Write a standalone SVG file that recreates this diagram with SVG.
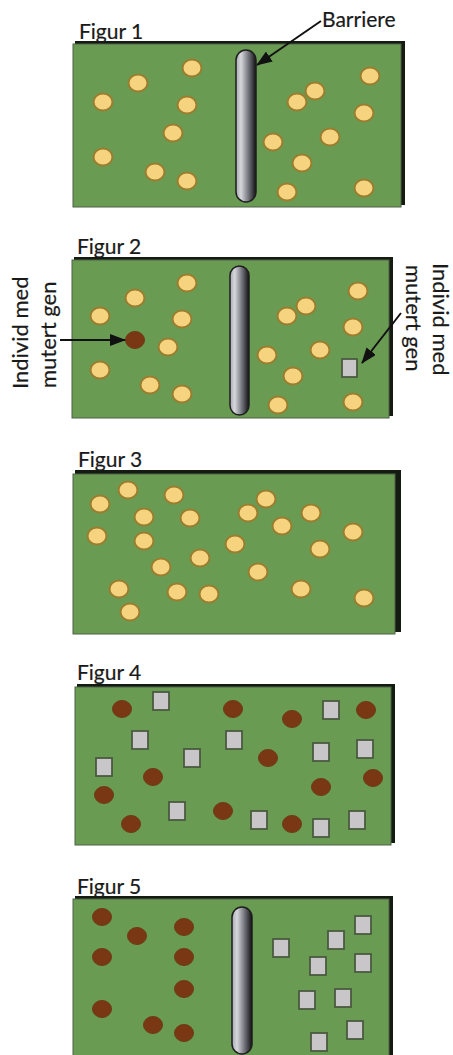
<svg xmlns="http://www.w3.org/2000/svg" width="453" height="1055" viewBox="0 0 453 1055">
<defs>
<style>
.bg{fill:#ffffff}
.shadow{fill:#141c12}
.box{fill:#6a9b53;stroke:#4f6048;stroke-width:1}
.dot{fill:#f6d47f;stroke:#9a7d2f;stroke-width:2}
.mdot{fill:#7a3714;stroke:#6e3a16;stroke-width:1}
.sq{fill:#c9c6c9;stroke:#4b5a41;stroke-width:1.8}
.barrier{fill:url(#bar);stroke:#1e1e1e;stroke-width:1.5}
.lbl{font-family:Lato,"Open Sans","Liberation Sans",sans-serif;font-size:21px;fill:#1a1a1a;stroke:#1a1a1a;stroke-width:0.2}
.rot{font-family:Lato,"Open Sans","Liberation Sans",sans-serif;font-size:22px;fill:#1a1a1a;stroke:#1a1a1a;stroke-width:0.2}
.arrow{stroke:#111;stroke-width:2;fill:none;marker-end:url(#ah)}
</style>
<linearGradient id="bar" x1="0" y1="0" x2="1" y2="0">
<stop offset="0" stop-color="#a9a9b2"/>
<stop offset="0.25" stop-color="#d6d6dc"/>
<stop offset="0.65" stop-color="#6d6d76"/>
<stop offset="1" stop-color="#121212"/>
</linearGradient>
<marker id="ah" markerUnits="userSpaceOnUse" markerWidth="16" markerHeight="12" refX="15" refY="6" orient="auto">
<path d="M0,0 L16,6 L0,12 z" fill="#111"/>
</marker>
</defs>
<rect class="bg" x="0" y="0" width="453" height="1055"/>

<g id="figur1">
<rect class="shadow" x="75" y="41" width="330" height="164"/>
<rect class="box" x="73" y="44" width="328" height="163"/>
<text class="lbl" x="79" y="39">Figur 1</text>
<rect class="barrier" x="236" y="50" width="20" height="152" rx="10"/>
<g>
<ellipse class="dot" cx="192" cy="68" rx="9.5" ry="8.5"/>
<ellipse class="dot" cx="138" cy="83" rx="9.5" ry="8.5"/>
<ellipse class="dot" cx="103" cy="102" rx="9.5" ry="8.5"/>
<ellipse class="dot" cx="187" cy="105" rx="9.5" ry="8.5"/>
<ellipse class="dot" cx="173" cy="133" rx="9.5" ry="8.5"/>
<ellipse class="dot" cx="103" cy="157" rx="9.5" ry="8.5"/>
<ellipse class="dot" cx="155" cy="172" rx="9.5" ry="8.5"/>
<ellipse class="dot" cx="187" cy="181" rx="9.5" ry="8.5"/>
<ellipse class="dot" cx="370" cy="76" rx="9.5" ry="8.5"/>
<ellipse class="dot" cx="315" cy="91" rx="9.5" ry="8.5"/>
<ellipse class="dot" cx="297" cy="102" rx="9.5" ry="8.5"/>
<ellipse class="dot" cx="364" cy="113" rx="9.5" ry="8.5"/>
<ellipse class="dot" cx="330" cy="137" rx="9.5" ry="8.5"/>
<ellipse class="dot" cx="273" cy="142" rx="9.5" ry="8.5"/>
<ellipse class="dot" cx="302" cy="163" rx="9.5" ry="8.5"/>
<ellipse class="dot" cx="287" cy="192" rx="9.5" ry="8.5"/>
<ellipse class="dot" cx="364" cy="188" rx="9.5" ry="8.5"/>
</g>
</g>
<g id="label-barriere">
<text class="lbl" x="322" y="27">Barriere</text>
</g>

<g id="figur2">
<rect class="shadow" x="74" y="257" width="319" height="159"/>
<rect class="box" x="72" y="260" width="317" height="158"/>
<text class="lbl" x="77" y="254">Figur 2</text>
<rect class="barrier" x="230" y="266" width="19" height="149" rx="9.5"/>
<g>
<ellipse class="dot" cx="187" cy="283" rx="9.5" ry="8.5"/>
<ellipse class="dot" cx="135" cy="298" rx="9.5" ry="8.5"/>
<ellipse class="dot" cx="100" cy="316" rx="9.5" ry="8.5"/>
<ellipse class="dot" cx="182" cy="319" rx="9.5" ry="8.5"/>
<ellipse class="dot" cx="168" cy="347" rx="9.5" ry="8.5"/>
<ellipse class="dot" cx="100" cy="370" rx="9.5" ry="8.5"/>
<ellipse class="dot" cx="150" cy="385" rx="9.5" ry="8.5"/>
<ellipse class="dot" cx="182" cy="394" rx="9.5" ry="8.5"/>
<ellipse class="dot" cx="358" cy="291" rx="9.5" ry="8.5"/>
<ellipse class="dot" cx="306" cy="306" rx="9.5" ry="8.5"/>
<ellipse class="dot" cx="287" cy="316" rx="9.5" ry="8.5"/>
<ellipse class="dot" cx="353" cy="327" rx="9.5" ry="8.5"/>
<ellipse class="dot" cx="320" cy="350" rx="9.5" ry="8.5"/>
<ellipse class="dot" cx="267" cy="355" rx="9.5" ry="8.5"/>
<ellipse class="dot" cx="293" cy="376" rx="9.5" ry="8.5"/>
<ellipse class="dot" cx="278" cy="405" rx="9.5" ry="8.5"/>
<ellipse class="dot" cx="353" cy="402" rx="9.5" ry="8.5"/>
</g>
<ellipse id="mutant-left" class="mdot" cx="135" cy="340" rx="9.5" ry="8.5"/>
<rect id="mutant-right" class="sq" x="342" y="359" width="15" height="18"/>
</g>
<g id="label-left">
<text class="rot" transform="translate(28,389) rotate(-90)">Individ med</text>
<text class="rot" transform="translate(56,388) rotate(-90)">mutert gen</text>
</g>
<g id="label-right">
<text class="rot" transform="translate(433,263) rotate(90)">Individ med</text>
<text class="rot" transform="translate(406,265) rotate(90)">mutert gen</text>
</g>

<g id="figur3">
<rect class="shadow" x="75" y="470" width="326" height="162"/>
<rect class="box" x="73" y="474" width="322" height="160"/>
<text class="lbl" x="78" y="467">Figur 3</text>
<g>
<ellipse class="dot" cx="128" cy="490" rx="9.5" ry="8.5"/>
<ellipse class="dot" cx="100" cy="504" rx="9.5" ry="8.5"/>
<ellipse class="dot" cx="174" cy="495" rx="9.5" ry="8.5"/>
<ellipse class="dot" cx="144" cy="517" rx="9.5" ry="8.5"/>
<ellipse class="dot" cx="190" cy="518" rx="9.5" ry="8.5"/>
<ellipse class="dot" cx="97" cy="536" rx="9.5" ry="8.5"/>
<ellipse class="dot" cx="144" cy="541" rx="9.5" ry="8.5"/>
<ellipse class="dot" cx="161" cy="567" rx="9.5" ry="8.5"/>
<ellipse class="dot" cx="200" cy="558" rx="9.5" ry="8.5"/>
<ellipse class="dot" cx="119" cy="589" rx="9.5" ry="8.5"/>
<ellipse class="dot" cx="177" cy="592" rx="9.5" ry="8.5"/>
<ellipse class="dot" cx="209" cy="594" rx="9.5" ry="8.5"/>
<ellipse class="dot" cx="130" cy="612" rx="9.5" ry="8.5"/>
<ellipse class="dot" cx="266" cy="499" rx="9.5" ry="8.5"/>
<ellipse class="dot" cx="248" cy="513" rx="9.5" ry="8.5"/>
<ellipse class="dot" cx="311" cy="513" rx="9.5" ry="8.5"/>
<ellipse class="dot" cx="282" cy="526" rx="9.5" ry="8.5"/>
<ellipse class="dot" cx="353" cy="532" rx="9.5" ry="8.5"/>
<ellipse class="dot" cx="235" cy="544" rx="9.5" ry="8.5"/>
<ellipse class="dot" cx="320" cy="549" rx="9.5" ry="8.5"/>
<ellipse class="dot" cx="258" cy="572" rx="9.5" ry="8.5"/>
<ellipse class="dot" cx="301" cy="589" rx="9.5" ry="8.5"/>
<ellipse class="dot" cx="364" cy="598" rx="9.5" ry="8.5"/>
</g>
</g>

<g id="figur4">
<rect class="shadow" x="77" y="684" width="318" height="159"/>
<rect class="box" x="75" y="687" width="316" height="158"/>
<text class="lbl" x="77" y="680">Figur 4</text>
<g>
<ellipse class="mdot" cx="122" cy="709" rx="9.5" ry="8.5"/>
<ellipse class="mdot" cx="233" cy="709" rx="9.5" ry="8.5"/>
<ellipse class="mdot" cx="292" cy="719" rx="9.5" ry="8.5"/>
<ellipse class="mdot" cx="366" cy="710" rx="9.5" ry="8.5"/>
<ellipse class="mdot" cx="268" cy="758" rx="9.5" ry="8.5"/>
<ellipse class="mdot" cx="153" cy="777" rx="9.5" ry="8.5"/>
<ellipse class="mdot" cx="373" cy="778" rx="9.5" ry="8.5"/>
<ellipse class="mdot" cx="104" cy="795" rx="9.5" ry="8.5"/>
<ellipse class="mdot" cx="321" cy="787" rx="9.5" ry="8.5"/>
<ellipse class="mdot" cx="223" cy="811" rx="9.5" ry="8.5"/>
<ellipse class="mdot" cx="131" cy="824" rx="9.5" ry="8.5"/>
<ellipse class="mdot" cx="292" cy="824" rx="9.5" ry="8.5"/>
<rect class="sq" x="153" y="692" width="16" height="18"/>
<rect class="sq" x="323" y="701" width="16" height="18"/>
<rect class="sq" x="132" y="731" width="16" height="18"/>
<rect class="sq" x="226" y="731" width="16" height="18"/>
<rect class="sq" x="184" y="749" width="16" height="18"/>
<rect class="sq" x="313" y="743" width="16" height="18"/>
<rect class="sq" x="357" y="740" width="16" height="18"/>
<rect class="sq" x="96" y="758" width="16" height="18"/>
<rect class="sq" x="169" y="802" width="16" height="18"/>
<rect class="sq" x="251" y="811" width="16" height="18"/>
<rect class="sq" x="313" y="819" width="16" height="18"/>
<rect class="sq" x="349" y="811" width="16" height="18"/>
</g>
</g>

<g id="figur5">
<rect class="shadow" x="75" y="896" width="318" height="170"/>
<rect class="box" x="73" y="899" width="316" height="170"/>
<text class="lbl" x="77" y="894">Figur 5</text>
<rect class="barrier" x="232" y="907" width="20" height="147" rx="10"/>
<g>
<ellipse class="mdot" cx="102" cy="917" rx="9.5" ry="8.5"/>
<ellipse class="mdot" cx="137" cy="936" rx="9.5" ry="8.5"/>
<ellipse class="mdot" cx="184" cy="927" rx="9.5" ry="8.5"/>
<ellipse class="mdot" cx="102" cy="957" rx="9.5" ry="8.5"/>
<ellipse class="mdot" cx="184" cy="957" rx="9.5" ry="8.5"/>
<ellipse class="mdot" cx="184" cy="989" rx="9.5" ry="8.5"/>
<ellipse class="mdot" cx="102" cy="1009" rx="9.5" ry="8.5"/>
<ellipse class="mdot" cx="153" cy="1025" rx="9.5" ry="8.5"/>
<ellipse class="mdot" cx="184" cy="1033" rx="9.5" ry="8.5"/>
<rect class="sq" x="355" y="916" width="16" height="18"/>
<rect class="sq" x="328" y="931" width="16" height="18"/>
<rect class="sq" x="273" y="939" width="16" height="18"/>
<rect class="sq" x="310" y="957" width="16" height="18"/>
<rect class="sq" x="355" y="954" width="16" height="18"/>
<rect class="sq" x="299" y="991" width="16" height="18"/>
<rect class="sq" x="335" y="989" width="16" height="18"/>
<rect class="sq" x="347" y="1021" width="16" height="18"/>
<rect class="sq" x="311" y="1033" width="16" height="18"/>
</g>
</g>

<g id="connectors">
<line class="arrow" x1="321" y1="21" x2="257" y2="65"/>
<line class="arrow" x1="60" y1="340" x2="125" y2="340"/>
<line class="arrow" x1="401" y1="313" x2="362" y2="363"/>
</g>
</svg>
